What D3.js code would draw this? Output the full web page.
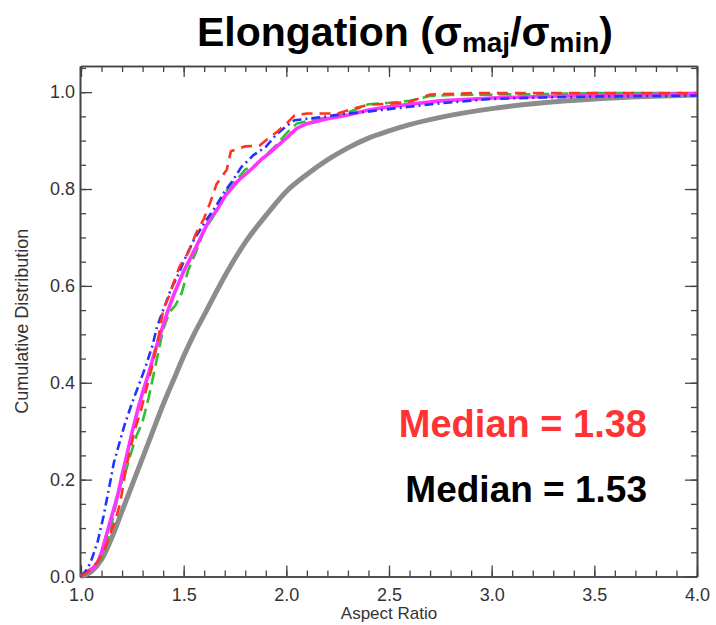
<!DOCTYPE html>
<html>
<head>
<meta charset="utf-8">
<title>Elongation</title>
<style>
  body { margin: 0; background: #fff; }
  text { font-family: "Liberation Sans", Arial, Helvetica, sans-serif; }
</style>
<script src="https://d3js.org/d3.v7.min.js"></script>
</head>
<body>
<svg id="chart" width="716" height="625"></svg>
<script>
// cumulative distributions: [aspect ratio, fraction]
const grayCurve = [[1.0,0],[1.05,0.01],[1.1,0.035],[1.15,0.08],[1.2,0.135],[1.25,0.19],[1.3,0.245],[1.35,0.3],[1.4,0.355],[1.45,0.405],[1.5,0.455],[1.55,0.5],[1.6,0.54],[1.7,0.62],[1.8,0.69],[1.9,0.745],[2.0,0.795],[2.1,0.83],[2.2,0.86],[2.3,0.885],[2.4,0.905],[2.5,0.92],[2.6,0.933],[2.75,0.948],[3.0,0.966],[3.25,0.978],[3.5,0.986],[3.75,0.991],[4.0,0.994]];

const magentaCurve = [[1.0,0],[1.03,0.01],[1.06,0.018],[1.08,0.028],[1.1,0.05],[1.12,0.08],[1.15,0.125],[1.18,0.17],[1.2,0.21],[1.22,0.245],[1.25,0.3],[1.28,0.35],[1.3,0.38],[1.33,0.42],[1.36,0.465],[1.39,0.505],[1.42,0.545],[1.45,0.58],[1.48,0.61],[1.5,0.63],[1.53,0.655],[1.56,0.68],[1.6,0.715],[1.63,0.74],[1.66,0.755],[1.7,0.785],[1.73,0.8],[1.76,0.815],[1.8,0.83],[1.84,0.845],[1.88,0.862],[1.92,0.875],[1.96,0.89],[2.0,0.905],[2.05,0.925],[2.1,0.935],[2.2,0.945],[2.3,0.953],[2.4,0.963],[2.5,0.97],[2.6,0.975],[2.75,0.982],[3.0,0.988],[3.25,0.991],[3.5,0.993],[3.75,0.995],[4.0,0.997]];

const greenCurve = [[1.0,0],[1.03,0.008],[1.06,0.018],[1.09,0.03],[1.12,0.06],[1.15,0.11],[1.19,0.185],[1.22,0.22],[1.24,0.25],[1.27,0.29],[1.3,0.32],[1.33,0.37],[1.37,0.45],[1.4,0.51],[1.43,0.545],[1.46,0.56],[1.49,0.585],[1.52,0.63],[1.56,0.67],[1.6,0.715],[1.64,0.74],[1.68,0.77],[1.72,0.805],[1.76,0.82],[1.8,0.84],[1.85,0.85],[1.9,0.87],[1.95,0.89],[2.0,0.915],[2.05,0.935],[2.1,0.94],[2.2,0.948],[2.3,0.958],[2.4,0.975],[2.5,0.978],[2.6,0.982],[2.7,0.992],[2.8,0.994],[3.0,0.995],[3.25,0.996],[3.5,0.998],[4.0,0.998]];

const blueCurve = [[1.0,0],[1.03,0.015],[1.05,0.033],[1.08,0.07],[1.11,0.125],[1.14,0.19],[1.16,0.235],[1.19,0.28],[1.21,0.31],[1.25,0.36],[1.29,0.405],[1.32,0.44],[1.35,0.48],[1.37,0.515],[1.4,0.55],[1.44,0.595],[1.47,0.62],[1.51,0.66],[1.55,0.695],[1.61,0.736],[1.65,0.76],[1.7,0.795],[1.74,0.818],[1.78,0.845],[1.84,0.87],[1.9,0.887],[1.95,0.912],[2.0,0.93],[2.04,0.942],[2.1,0.945],[2.18,0.949],[2.28,0.955],[2.38,0.959],[2.5,0.965],[2.6,0.97],[2.75,0.977],[3.0,0.986],[3.25,0.989],[3.5,0.991],[3.75,0.992],[4.0,0.993]];

const redCurve = [[1.0,0],[1.04,0.012],[1.08,0.03],[1.11,0.05],[1.14,0.085],[1.17,0.12],[1.19,0.15],[1.22,0.225],[1.26,0.3],[1.29,0.34],[1.32,0.39],[1.35,0.44],[1.38,0.5],[1.4,0.55],[1.43,0.58],[1.45,0.605],[1.48,0.64],[1.52,0.667],[1.56,0.708],[1.6,0.74],[1.63,0.773],[1.66,0.81],[1.71,0.84],[1.73,0.878],[1.8,0.888],[1.87,0.89],[1.9,0.9],[1.96,0.92],[2.0,0.935],[2.04,0.952],[2.1,0.956],[2.25,0.956],[2.32,0.965],[2.4,0.974],[2.5,0.976],[2.6,0.98],[2.7,0.995],[2.9,0.998],[3.5,0.998],[4.0,0.998]];

const xMajor = [1.0, 1.5, 2.0, 2.5, 3.0, 3.5, 4.0];
const yMajor = [0.0, 0.2, 0.4, 0.6, 0.8, 1.0];
const medianLabels = ["Median = 1.38", "Median = 1.53"];

const svg = d3.select("#chart");
const LEFT = 81, RIGHT = 697, TOP = 66, BOTTOM = 576.5;

const x = d3.scaleLinear().domain([1, 4]).range([LEFT, RIGHT]);
const y = d3.scaleLinear().domain([0, 1.054]).range([BOTTOM, TOP]);

const xMinor = d3.range(1.0, 4.0001, 0.1).map(v => +v.toFixed(2));
const yMinor = d3.range(0, 1.0501, 0.05).map(v => +v.toFixed(2));

function styleAxis(g) {
  g.selectAll(".domain").attr("stroke", "#444").attr("stroke-width", 1.6);
  g.selectAll(".tick line").attr("stroke", "#444").attr("stroke-width", 1.3);
  g.selectAll(".tick text")
   .attr("fill", "#333")
   .style("font-size", "18px")
   .style("font-family", "'Liberation Sans', Arial, sans-serif");
}

// bottom axis with labels
svg.append("g")
   .attr("transform", `translate(0, ${BOTTOM})`)
   .call(d3.axisBottom(x).tickValues(xMajor).tickSize(-11).tickSizeOuter(0).tickPadding(12).tickFormat(d3.format(".1f")))
   .call(styleAxis);
svg.append("g")
   .attr("transform", `translate(0, ${BOTTOM})`)
   .call(d3.axisBottom(x).tickValues(xMinor).tickSize(-6).tickSizeOuter(0).tickFormat(""))
   .call(styleAxis);

// top axis
svg.append("g")
   .attr("transform", `translate(0, ${TOP})`)
   .call(d3.axisTop(x).tickValues(xMajor).tickSize(-11).tickSizeOuter(0).tickFormat(""))
   .call(styleAxis);
svg.append("g")
   .attr("transform", `translate(0, ${TOP})`)
   .call(d3.axisTop(x).tickValues(xMinor).tickSize(-6).tickSizeOuter(0).tickFormat(""))
   .call(styleAxis);

// left axis with labels
svg.append("g")
   .attr("transform", `translate(${LEFT - 1}, 0)`)
   .call(d3.axisLeft(y).tickValues(yMajor).tickSize(-12).tickSizeOuter(0).tickPadding(5).tickFormat(d3.format(".1f")))
   .call(styleAxis);
svg.append("g")
   .attr("transform", `translate(${LEFT - 1}, 0)`)
   .call(d3.axisLeft(y).tickValues(yMinor).tickSize(-6).tickSizeOuter(0).tickFormat(""))
   .call(styleAxis);

// right axis
svg.append("g")
   .attr("transform", `translate(${RIGHT}, 0)`)
   .call(d3.axisRight(y).tickValues(yMajor).tickSize(-12).tickSizeOuter(0).tickFormat(""))
   .call(styleAxis);
svg.append("g")
   .attr("transform", `translate(${RIGHT}, 0)`)
   .call(d3.axisRight(y).tickValues(yMinor).tickSize(-6).tickSizeOuter(0).tickFormat(""))
   .call(styleAxis);

// curves
const line = d3.line().x(d => x(d[0])).y(d => y(d[1]));
const smooth = d3.line().x(d => x(d[0])).y(d => y(d[1])).curve(d3.curveMonotoneX);

svg.append("path").datum(grayCurve)
   .attr("d", smooth).attr("fill", "none")
   .attr("stroke", "#8c8c8c").attr("stroke-width", 5);

svg.append("path").datum(greenCurve)
   .attr("d", line).attr("fill", "none")
   .attr("stroke", "#2fc02f").attr("stroke-width", 2.6)
   .attr("stroke-dasharray", "13,6");

svg.append("path").datum(magentaCurve)
   .attr("d", line).attr("fill", "none")
   .attr("stroke", "#ff33ff").attr("stroke-width", 3.6);

svg.append("path").datum(blueCurve)
   .attr("d", line).attr("fill", "none")
   .attr("stroke", "#2233ff").attr("stroke-width", 2.6)
   .attr("stroke-dasharray", "9,4,2,4");

svg.append("path").datum(redCurve)
   .attr("d", line).attr("fill", "none")
   .attr("stroke", "#ff3322").attr("stroke-width", 2.6)
   .attr("stroke-dasharray", "11,7");

// axis titles
svg.append("text")
   .attr("x", (LEFT + RIGHT) / 2).attr("y", 619)
   .attr("text-anchor", "middle")
   .attr("fill", "#333").style("font-size", "17px")
   .text("Aspect Ratio");

svg.append("text")
   .attr("transform", `translate(28, ${(TOP + BOTTOM) / 2}) rotate(-90)`)
   .attr("text-anchor", "middle")
   .attr("fill", "#333").style("font-size", "18px")
   .text("Cumulative Distribution");

// title
const title = svg.append("text")
   .attr("x", 405).attr("y", 46)
   .attr("text-anchor", "middle")
   .attr("fill", "#000")
   .style("font-size", "41px").style("font-weight", "bold");
title.append("tspan").text("Elongation (σ");
title.append("tspan").attr("dy", 6).style("font-size", "28px").text("maj");
title.append("tspan").attr("dy", -6).text("/σ");
title.append("tspan").attr("dy", 6).style("font-size", "28px").text("min");
title.append("tspan").attr("dy", -6).text(")");

// medians
svg.append("text")
   .attr("x", 647).attr("y", 437)
   .attr("text-anchor", "end")
   .attr("fill", "#ff3333")
   .style("font-size", "38px").style("font-weight", "bold")
   .text(medianLabels[0]);
svg.append("text")
   .attr("x", 647).attr("y", 502)
   .attr("text-anchor", "end")
   .attr("fill", "#000")
   .style("font-size", "37px").style("font-weight", "bold")
   .text(medianLabels[1]);
</script>
</body>
</html>
